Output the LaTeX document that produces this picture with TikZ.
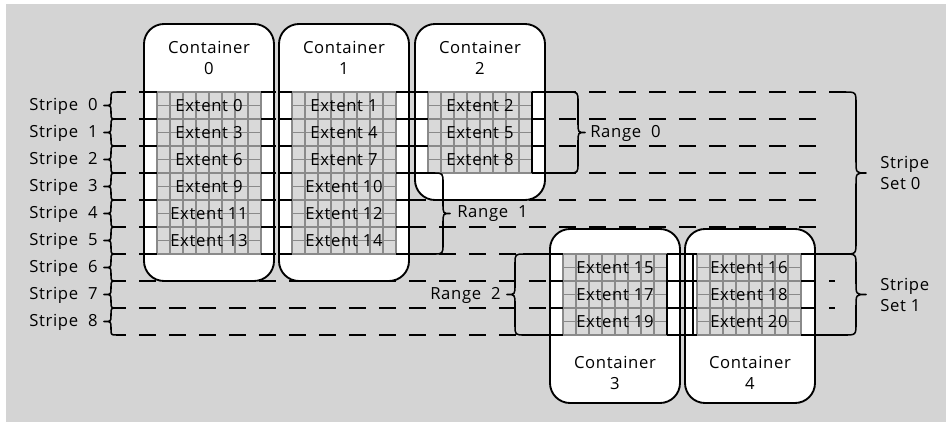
\documentclass[tikz,border=0pt]{standalone}
\usepackage{fontspec}
\setmainfont{Open Sans}[LetterSpace=4]
\definecolor{bggray}{RGB}{212,212,212}
\definecolor{cellfill}{RGB}{217,217,217}
\definecolor{gridgray}{RGB}{138,138,138}

% extent grid: left x, top y, number of stripe rows (8 columns of 13, 2 cells per row)
\newcommand\extentgrid[3]{%
  \fill[cellfill] (#1,#2) rectangle ({#1+104},{#2+27*#3});
  \foreach \c in {0,...,8}
    \draw[gridline] ({#1+13*\c},#2) -- ({#1+13*\c},{#2+27*#3});
  \pgfmathtruncatemacro\nrows{2*#3}
  \foreach \r in {0,...,\nrows}
    \draw[gridline] (#1,{#2+13.5*\r}) -- ({#1+104},{#2+13.5*\r});
}
% curly brace: end x, spine x, tip x, top y, bottom y, corner radius
\newcommand\curlybrace[6]{%
  \draw[bracestroke] (#1,#4) -- ({#2+#6*sign(#1-#2)},#4)
    .. controls (#2,#4) .. (#2,{#4+#6})
    -- (#2,{(#4+#5)/2-#6})
    .. controls (#2,{(#4+#5)/2}) .. (#3,{(#4+#5)/2})
    .. controls (#2,{(#4+#5)/2}) .. (#2,{(#4+#5)/2+#6})
    -- (#2,{#5-#6})
    .. controls (#2,#5) .. ({#2+#6*sign(#1-#2)},#5) -- (#1,#5);
}
% solid boundary ticks inside a container: container left, grid left, grid right, container right, top y, rows
\newcommand\boundaryticks[6]{%
  \foreach \r in {0,...,#6}{
    \draw[tick] (#1,{#5+27*\r}) -- (#2,{#5+27*\r});
    \draw[tick] (#3,{#5+27*\r}) -- (#4,{#5+27*\r});
  }
}

\begin{document}
\begin{tikzpicture}[x=0.75pt,y=-0.75pt,
  font=\fontsize{12.5}{15.75}\selectfont,
  container/.style={draw=black, line width=1.4pt, fill=white, rounded corners=15pt,
    minimum width=97.5pt, inner sep=0pt, outer sep=0pt},
  stripeline/.style={line width=1.15pt, dash pattern=on 12.75pt off 9.75pt, dash phase=11.25pt},
  gridline/.style={draw=gridgray, line width=1.2pt},
  tick/.style={line width=1.15pt},
  bracestroke/.style={line width=1.15pt, line join=round},
  label/.style={inner sep=0pt, align=center},
  extlabel/.style={inner sep=0pt}]

\useasboundingbox (0,0) rectangle (946,422);
\fill[bggray] (6,4) rectangle (946,422);

% stripe boundaries (dashed)
\foreach \k/\xe in {0/835,1/825,2/825,3/825,4/825,5/825,6/815,7/835,8/835,9/815}
  \draw[stripeline] (124,{92+27*\k}) -- (\xe,{92+27*\k});

% containers
\node[container, minimum height=192.75pt] (c0) at (209,152.5) {};
\node[container, minimum height=192.75pt] (c1) at (344,152.5) {};
\node[container, minimum height=132pt]    (c2) at (480,112) {};
\node[container, minimum height=130.5pt]  (c3) at (615,316) {};
\node[container, minimum height=130.5pt]  (c4) at (750,316) {};

\node[label] (t0) at (209,57.5) {Container\\0};
\node[label] (t1) at (344,57.5) {Container\\1};
\node[label] (t2) at (480,57.5) {Container\\2};
\node[label] (t3) at (615,372.5) {Container\\3};
\node[label] (t4) at (750,372.5) {Container\\4};

% extent grids
\extentgrid{157}{92}{6}
\extentgrid{292}{92}{6}
\extentgrid{428}{92}{3}
\extentgrid{563}{254}{3}
\extentgrid{697}{254}{3}

% boundary ticks in the white margins of each container
\boundaryticks{144}{157}{261}{274}{92}{6}
\boundaryticks{279}{292}{396}{409}{92}{6}
\boundaryticks{415}{428}{532}{545}{92}{3}
\boundaryticks{550}{563}{667}{680}{254}{3}
\boundaryticks{685}{697}{801}{815}{254}{3}
\draw[tick] (532,92) -- (532,173);
\draw[tick] (667,254) -- (667,335);
\draw[tick] (693,254) -- (693,335);

% extent labels
\foreach \n/\r in {0/0,3/1,6/2,9/3,11/4,13/5}
  \node[extlabel] (e\n) at (209,{105.5+27*\r}) {Extent \n};
\foreach \n/\r in {1/0,4/1,7/2,10/3,12/4,14/5}
  \node[extlabel] (e\n) at (344,{105.5+27*\r}) {Extent \n};
\foreach \n/\r in {2/0,5/1,8/2}
  \node[extlabel] (e\n) at (480,{105.5+27*\r}) {Extent \n};
\foreach \n/\r in {15/0,17/1,19/2}
  \node[extlabel] (e\n) at (615,{267.5+27*\r}) {Extent \n};
\foreach \n/\r in {16/0,18/1,20/2}
  \node[extlabel] (e\n) at (749,{267.5+27*\r}) {Extent \n};

% stripe braces and labels
\foreach \k in {0,...,8}{
  \curlybrace{124}{111}{104}{92+27*\k}{119+27*\k}{6}
  \node[extlabel, anchor=east] (s\k) at (98,{106+27*\k}) {Stripe\ \ \k};
}

% range braces
\curlybrace{545}{578}{585}{92}{173}{10}
\node[extlabel, anchor=west] (r0) at (590,133) {Range\ \ 0};
\curlybrace{409}{443}{450}{173}{254}{10}
\node[extlabel, anchor=west] (r1) at (457,214) {Range\ \ 1};
\curlybrace{550}{515}{507}{254}{335}{10}
\node[extlabel, anchor=east] (r2) at (501,295) {Range\ \ 2};

% stripe set braces
\curlybrace{835}{856}{866}{92}{254}{12}
\node[label, align=left, anchor=west] (set0) at (880,173) {Stripe\\Set 0};
\curlybrace{815}{856}{866}{254}{335}{12}
\node[label, align=left, anchor=west] (set1) at (880,294.5) {Stripe\\Set 1};
\end{tikzpicture}
\end{document}
